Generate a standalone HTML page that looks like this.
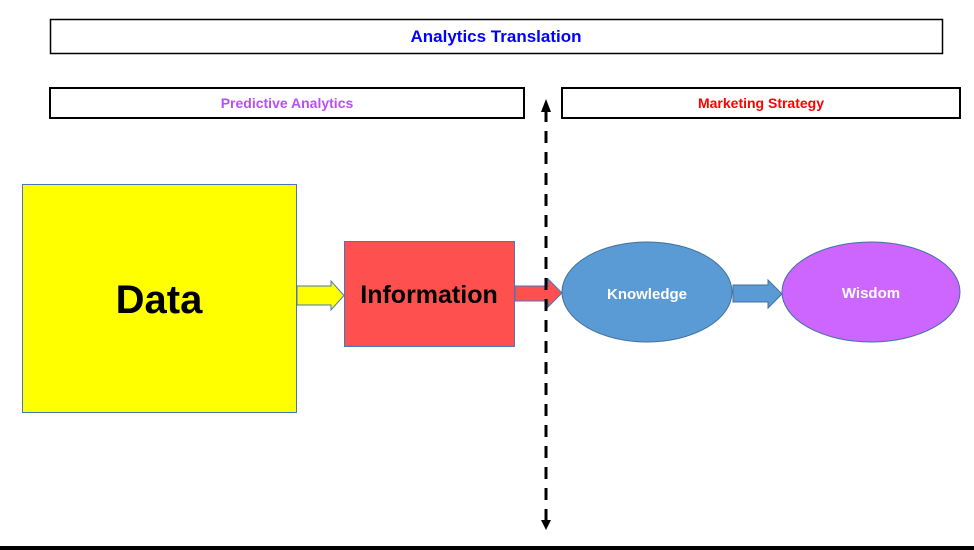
<!DOCTYPE html>
<html><head><style>
html,body{margin:0;padding:0;background:#fff;width:974px;height:550px;overflow:hidden}
svg{display:block}
text{font-family:"Liberation Sans",Arial,sans-serif;font-weight:bold}
</style></head><body>
<svg width="974" height="550" viewBox="0 0 974 550">
<rect x="50.5" y="19.5" width="892" height="34" fill="#fff" stroke="#000" stroke-width="1.5"/>
<text x="496" y="42" text-anchor="middle" font-size="17" fill="#0000ff">Analytics Translation</text>
<rect x="50" y="88" width="474" height="30" fill="#fff" stroke="#000" stroke-width="2"/>
<text x="287" y="108" text-anchor="middle" font-size="14" fill="#b650f5">Predictive Analytics</text>
<rect x="562" y="88" width="398" height="30" fill="#fff" stroke="#000" stroke-width="2"/>
<text x="761" y="108" text-anchor="middle" font-size="14" fill="#ff0000">Marketing Strategy</text>
<rect x="22.5" y="184.5" width="274" height="228" fill="#ffff00" stroke="#4a76b8" stroke-width="1"/>
<text x="159" y="313" text-anchor="middle" font-size="40" fill="#000">Data</text>
<polygon points="297,286 331,286 331,281 344,295.5 331,310 331,305 297,305" fill="#ffff00" stroke="#4a76b8" stroke-width="1"/>
<rect x="344.5" y="241.5" width="170" height="105" fill="#ff5050" stroke="#4a76b8" stroke-width="1"/>
<text x="429" y="303" text-anchor="middle" font-size="25" fill="#000">Information</text>
<polygon points="515,286 548,286 548,279 562,293 548,307 548,301 515,301" fill="#ff5050" stroke="#4a76b8" stroke-width="1"/>
<line x1="546" y1="110" x2="546" y2="520" stroke="#000" stroke-width="3" stroke-dasharray="12,9"/>
<polygon points="541,112 546,99 551,112" fill="#000"/>
<polygon points="541,520 546,530 551,520" fill="#000"/>
<ellipse cx="647" cy="292" rx="85" ry="50" fill="#5b9bd5" stroke="#41719c" stroke-width="1"/>
<text x="647" y="299" text-anchor="middle" font-size="15" fill="#fff">Knowledge</text>
<polygon points="733,285 768,285 768,280 782,294 768,308 768,302 733,302" fill="#5b9bd5" stroke="#41719c" stroke-width="1"/>
<ellipse cx="871" cy="292" rx="89" ry="50" fill="#cc66ff" stroke="#41719c" stroke-width="1"/>
<text x="871" y="298" text-anchor="middle" font-size="15" fill="#fff">Wisdom</text>
<rect x="0" y="546" width="974" height="4" fill="#000"/>
</svg>
</body></html>
